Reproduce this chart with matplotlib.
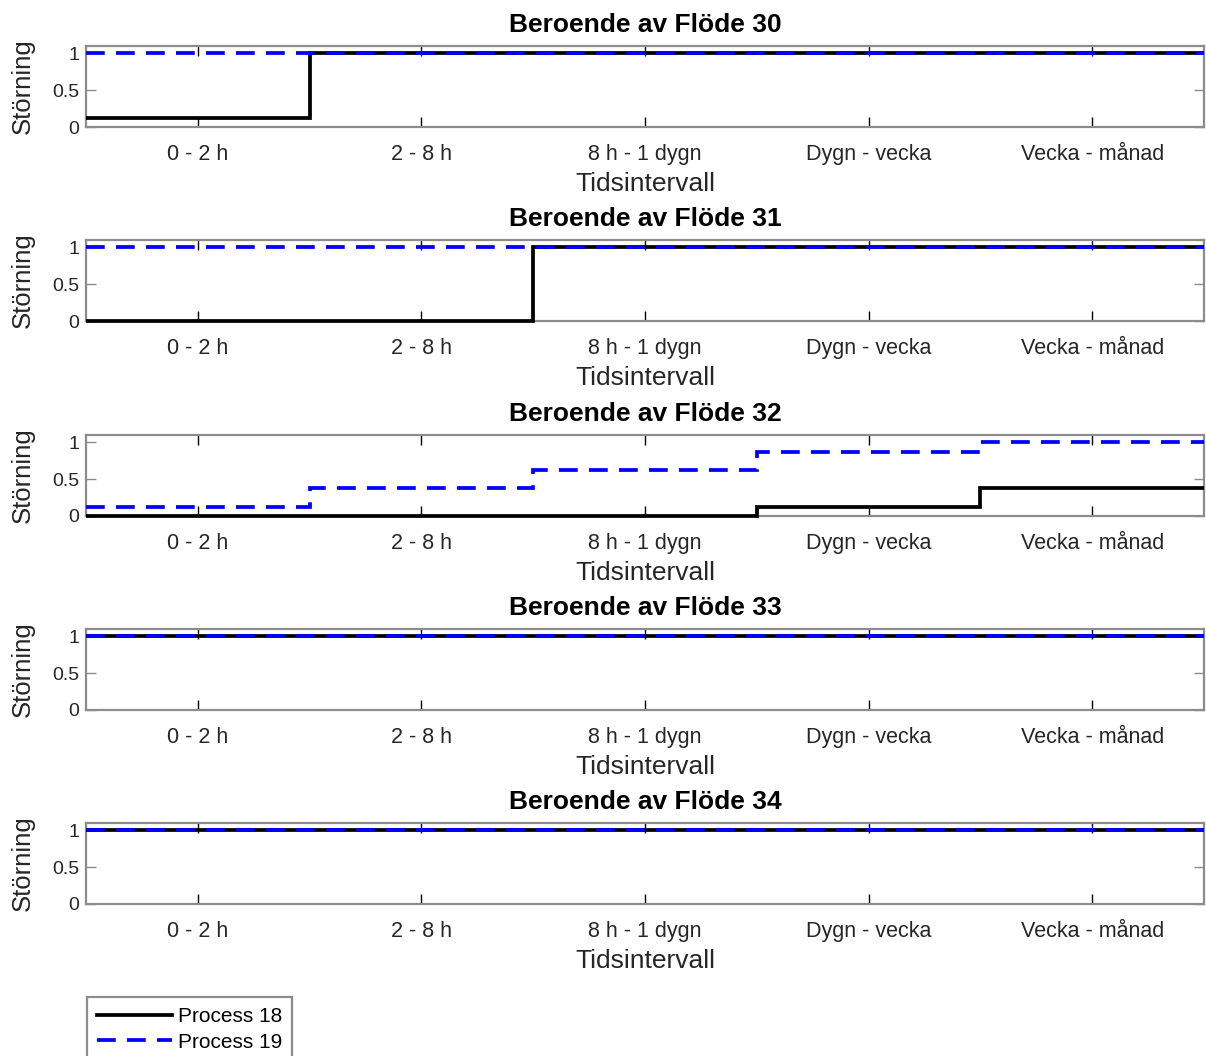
import matplotlib
matplotlib.use("Agg")
import matplotlib.pyplot as plt
import numpy as np
from matplotlib.lines import Line2D

plt.rcParams['font.family'] = ['Liberation Sans', 'DejaVu Sans']

categories = ["0 - 2 h", "2 - 8 h", "8 h - 1 dygn", "Dygn - vecka", "Vecka - månad"]
flows = [30, 31, 32, 33, 34]
process18 = [
    [0.125, 1, 1, 1, 1],
    [0, 0, 1, 1, 1],
    [0, 0, 0, 0.125, 0.375],
    [1, 1, 1, 1, 1],
    [1, 1, 1, 1, 1],
]
process19 = [
    [1, 1, 1, 1, 1],
    [1, 1, 1, 1, 1],
    [0.125, 0.375, 0.625, 0.875, 1],
    [1, 1, 1, 1, 1],
    [1, 1, 1, 1, 1],
]
yticks = [0, 0.5, 1]
ytick_labels = ["0", "0.5", "1"]

W, H = 1206, 1056
fig = plt.figure(figsize=(W / 100, H / 100), dpi=100)

left_px, right_px = 86, 1204
tops = [46, 240, 435, 629, 823]
ax_h = 81
gray = '#8c8c8c'
txt = '#262626'
blk_lw = 2.7
blu_lw = 2.7
blu_ls = (0, (5, 3))

x = np.arange(1, len(categories) + 1)
edges = np.arange(0.5, len(categories) + 1.0, 1.0)

for i, (fl, p18, p19) in enumerate(zip(flows, process18, process19)):
    top = tops[i]
    ax = fig.add_axes([left_px / W, 1 - (top + ax_h) / H, (right_px - left_px) / W, ax_h / H])
    ax.stairs(p18, edges, color='black', linewidth=blk_lw, baseline=None, clip_on=False, zorder=3)
    ax.stairs(p19, edges, color='#0000ff', linewidth=blu_lw, linestyle=blu_ls,
              baseline=None, clip_on=False, zorder=4)
    ax.set_xlim(0.5, 5.5)
    ax.set_ylim(0, 1.1)
    ax.set_xticks(x)
    ax.set_xticklabels(categories)
    ax.set_yticks(yticks)
    ax.set_yticklabels(ytick_labels)
    for s in ax.spines.values():
        s.set_color(gray)
        s.set_linewidth(1.6)
    ax.tick_params(axis='x', direction='in', top=True, bottom=True, length=7, width=1.0,
                   color='black', labelsize=15.5, labelcolor=txt, pad=12)
    ax.tick_params(axis='y', direction='in', left=True, right=True, length=7, width=1.0,
                   color=gray, labelsize=14, labelcolor=txt, pad=5)
    ax.set_xlabel("Tidsintervall", fontsize=19, color=txt, labelpad=5)
    ax.set_ylabel("Störning", fontsize=18.5, color=txt, labelpad=12)
    ax.set_title(f"Beroende av Flöde {fl}", fontsize=19, fontweight='bold', color='black', pad=10)

lh = [Line2D([], [], color='black', linewidth=blk_lw),
      Line2D([], [], color='#0000ff', linewidth=blu_lw, linestyle=blu_ls)]
leg = fig.legend(lh, ['Process 18', 'Process 19'], loc='upper left',
                 bbox_to_anchor=(87 / W, 1 - 997 / H), fontsize=15,
                 handlelength=3.6, handletextpad=0.25, labelspacing=0.3,
                 borderpad=0.5, borderaxespad=0, fancybox=False, framealpha=1)
leg.get_frame().set_edgecolor(gray)
leg.get_frame().set_linewidth(1.6)

fig.savefig("out.png", dpi=100)
